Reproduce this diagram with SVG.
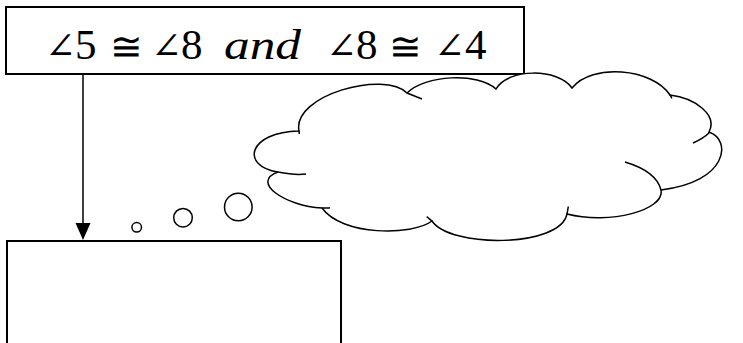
<svg xmlns="http://www.w3.org/2000/svg" width="743" height="343" viewBox="0 0 743 343">
<style>
.box{fill:#fff;stroke:#000;stroke-width:2}
.ln{fill:none;stroke:#000;stroke-width:1.5}
.cl{fill:#fff;stroke:#000;stroke-width:1.5}
.a{font-family:"DejaVu Serif","Liberation Serif",serif;font-size:37px;fill:#000}
.d{font-family:"Liberation Serif","DejaVu Serif",serif;font-size:43px}
.s{font-family:"DejaVu Serif","Liberation Serif",serif;font-size:39px;fill:#000}
.i{font-family:"Liberation Serif","DejaVu Serif",serif;font-size:42px;font-style:italic;fill:#000}
</style>
<g id="top-box">
<rect class="box" x="6" y="7" width="518" height="67"/>
<text class="a" x="45" y="59">∠<tspan class="d" dx="-1">5</tspan></text>
<text class="s" x="110" y="60">≅</text>
<text class="a" x="151" y="59">∠<tspan class="d" dx="-1">8</tspan></text>
<text class="i" x="224" y="59" textLength="77" lengthAdjust="spacingAndGlyphs">and</text>
<text class="a" x="326" y="59">∠<tspan class="d" dx="-1">8</tspan></text>
<text class="s" x="389" y="60">≅</text>
<text class="a" x="434" y="59">∠<tspan class="d">4</tspan></text>
</g>
<g id="bottom-box">
<rect class="box" x="7" y="241" width="334" height="110"/>
</g>
<g id="connectors">
<line class="ln" x1="83" y1="74" x2="83" y2="225"/>
<path d="M75.5,223 L90.5,223 L83,240 Z" fill="#000"/>
</g>
<g id="thought-bubbles">
<circle class="cl" cx="136.7" cy="227.3" r="4.8"/>
<circle class="cl" cx="183" cy="217.7" r="9.3"/>
<circle class="cl" cx="238.3" cy="207" r="13.8"/>
</g>
<g id="cloud">
<path class="cl" d="M299,131 C292,95 385,70 407,93 C425,75 478,72 496,89 C508,68 558,68 572,88 C592,63 652,68 670,95 C695,98 718,115 709,132 C732,140 728,182 661,190 C665,210 610,225 567,214 C560,248 450,248 432,221 C412,236 342,236 322,208 C285,206 250,182 278,172 C240,166 248,132 299,131 Z"/>
<path class="ln" d="M407,93 C412,95 417,97 422,99"/>
<path class="ln" d="M670,95 C671,96 671.5,97 671.7,98.5"/>
<path class="ln" d="M710,132 C705,137 700,140 693,143"/>
<path class="ln" d="M625,162 C645,168 658,178 661,190"/>
<path class="ln" d="M567,214 C567.5,211 568,209 568.3,206.5"/>
<path class="ln" d="M432,221 C430,219.5 428.5,218 426.7,216.7"/>
<path class="ln" d="M322,208 C325,208 328,208 330,207.7"/>
<path class="ln" d="M278,172 C288,174 298,175 306,174"/>
<path class="ln" d="M299,131 C299.2,132 299.3,133 299.3,134"/>
</g>
</svg>
